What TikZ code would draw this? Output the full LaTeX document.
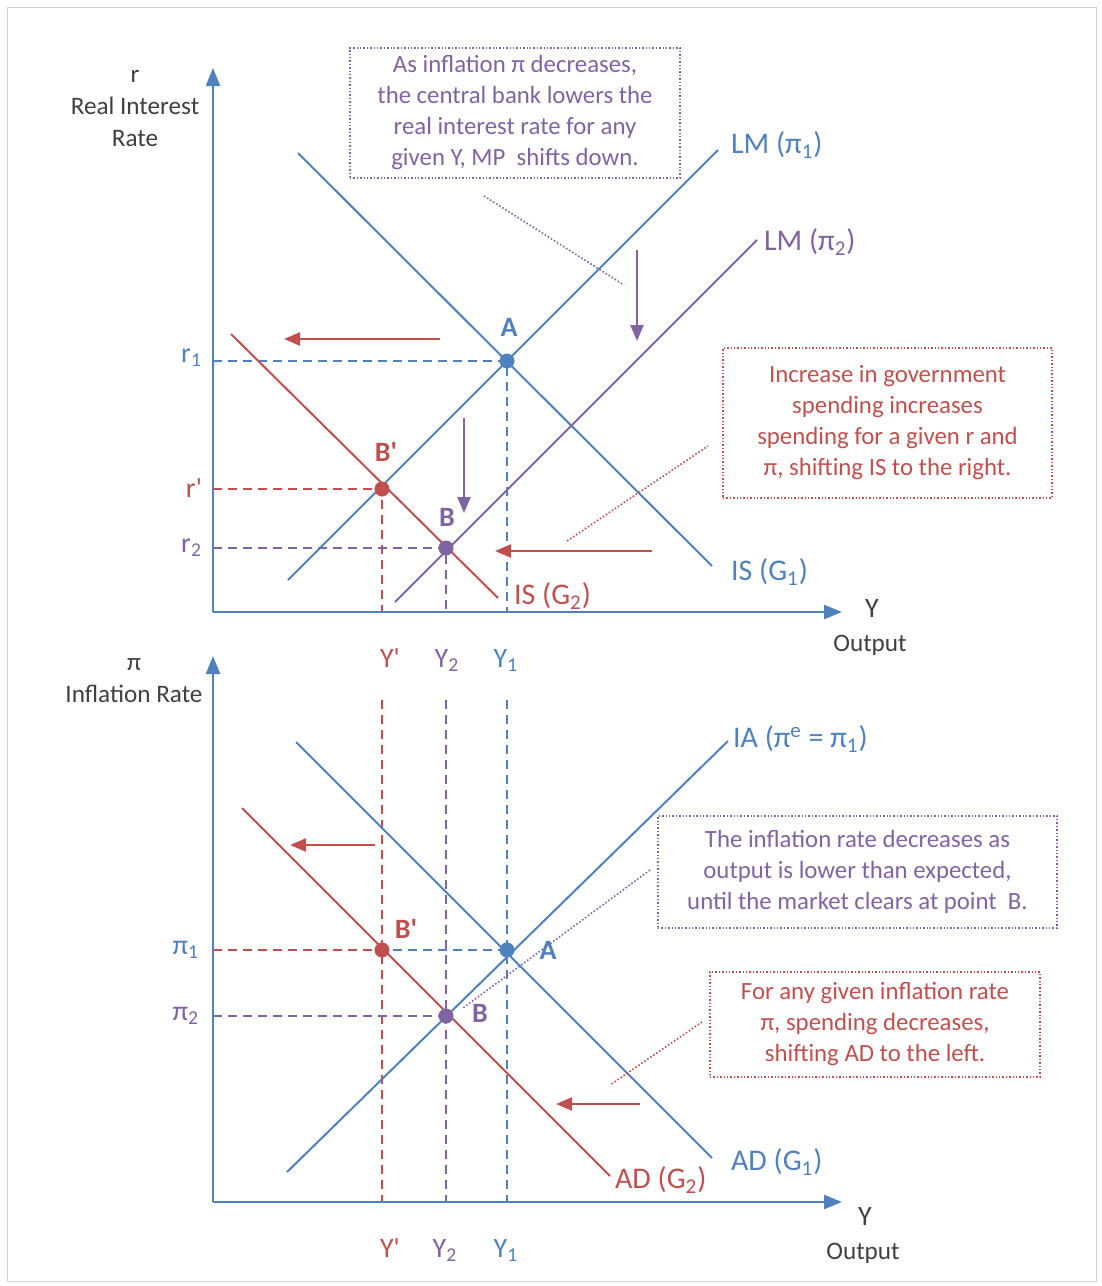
\documentclass[tikz,border=0pt]{standalone}
\usepackage{fontspec}
\setmainfont{Carlito}
\usetikzlibrary{arrows.meta}
\definecolor{econblue}{HTML}{4F81BD}
\definecolor{econred}{HTML}{C0504D}
\definecolor{econpurple}{HTML}{8064A2}
\definecolor{axtext}{HTML}{404040}
\newcommand{\pr}{\textquotesingle}
\tikzset{
  axis/.style={econblue, line width=1.2pt, -{Triangle[length=9pt,width=7pt]}},
  curve/.style={line width=1pt},
  guide/.style={line width=1pt, dash pattern=on 4.5pt off 3pt},
  move/.style={line width=1.2pt, -{Triangle[length=8pt,width=6.5pt]}},
  dot/.style={circle, fill, inner sep=0pt, minimum size=7.5pt},
  note/.style={draw, densely dotted, line width=0.7pt, align=center,
    font=\fontsize{12.4}{15.5}\selectfont, inner sep=0pt},
  lead/.style={densely dotted, line width=0.8pt},
  crvlbl/.style={anchor=west, font=\fontsize{15}{18}\selectfont},
  ptlbl/.style={font=\fontsize{14}{16}\selectfont\bfseries},
  tklbl/.style={font=\fontsize{14}{16}\selectfont},
  axlbl/.style={axtext, align=center, font=\fontsize{12.6}{16}\selectfont},
}
\begin{document}
\begin{tikzpicture}[x=0.5pt, y=-0.5pt]
\useasboundingbox (0,0) rectangle (1102,1286);
\draw[gray!35, line width=0.4pt] (7,7) rectangle (1096,1281);

% ---------- upper panel: IS-LM ----------
\coordinate (O1) at (213,612);
\coordinate (A1) at (507,361);
\coordinate (Bp1) at (382,489);
\coordinate (B1) at (446,548);

% guides
\draw[guide, econblue] (O1 |- A1) -- (A1) -- (A1 |- O1);
\draw[guide, econred] (O1 |- Bp1) -- (Bp1) -- (Bp1 |- O1);
\draw[guide, econpurple] (O1 |- B1) -- (B1) -- (B1 |- O1);

% curves
\coordinate (IS1a) at (298,153);   \coordinate (IS1b) at (712,566);
\coordinate (LM1a) at (288,580);   \coordinate (LM1b) at (718,150);
\coordinate (LM2a) at (395,602);   \coordinate (LM2b) at (757,240);
\coordinate (IS2a) at (231,334);   \coordinate (IS2b) at (498,598);
\draw[curve, econblue] (IS1a) -- (IS1b);
\draw[curve, econblue] (LM1a) -- (LM1b);
\draw[curve, econpurple] (LM2a) -- (LM2b);
\draw[curve, econred] (IS2a) -- (IS2b);
\node[crvlbl, econblue] (lblIS1) at (724,572) {IS (G\textsubscript{1})};
\node[crvlbl, econblue] (lblLM1) at (724,145) {LM (π\textsubscript{1})};
\node[crvlbl, econpurple] (lblLM2) at (757,242) {LM (π\textsubscript{2})};
\node[crvlbl, econred] (lblIS2) at (507,596) {IS (G\textsubscript{2})};

% axes
\coordinate (Ytop1) at (213,68);
\coordinate (Xend1) at (842,612);
\draw[axis] (O1) -- (Ytop1);
\draw[axis] (O1) -- (Xend1);
\node[axlbl] (rlbl) at (135,108) {r\\Real Interest\\Rate};
\node[axtext, font=\fontsize{14}{16}\selectfont] (Ylbl1) at (872,609) {Y};
\node[axlbl] (out1) at (870,645) {Output};

% tick labels
\node[tklbl, econblue, anchor=east] (r1) at (209,358) {r\textsubscript{1}};
\node[tklbl, econred, anchor=east] (rp) at (209,488) {r\pr};
\node[tklbl, econpurple, anchor=east] (r2) at (209,548) {r\textsubscript{2}};
\node[tklbl, econred, anchor=base] (Yp1) at (390,667) {Y\pr};
\node[tklbl, econpurple, anchor=base] (Y21) at (447,667) {Y\textsubscript{2}};
\node[tklbl, econblue, anchor=base] (Y11) at (506,667) {Y\textsubscript{1}};

% shift arrows
\coordinate (s1a) at (440,339); \coordinate (s1b) at (284,339);
\coordinate (s2a) at (464,418); \coordinate (s2b) at (464,513);
\coordinate (s3a) at (652,551); \coordinate (s3b) at (495,551);
\coordinate (s4a) at (637,250); \coordinate (s4b) at (637,341);
\draw[move, econred] (s1a) -- (s1b);
\draw[move, econpurple] (s2a) -- (s2b);
\draw[move, econred] (s3a) -- (s3b);
\draw[move, econpurple] (s4a) -- (s4b);

% notes
\node[note, econpurple, minimum width=165pt, minimum height=65pt] (mpnote) at (515,113)
  {As inflation π decreases,\\the central bank lowers the\\real interest rate for any\\given Y, MP\ \ shifts down.};
\node[note, econred, minimum width=164.5pt, minimum height=75pt] (isnote) at (887.5,423)
  {Increase in government\\spending increases\\spending for a given r and\\π, shifting IS to the right.};
\coordinate (l1a) at (484,196); \coordinate (l1b) at (624,285);
\coordinate (l2a) at (567,541); \coordinate (l2b) at (708,446);
\draw[lead, econpurple] (l1a) -- (l1b);
\draw[lead, econred] (l2a) -- (l2b);

% points
\node[dot, econblue] (Adot1) at (A1) {};
\node[dot, econred] (Bpdot1) at (Bp1) {};
\node[dot, econpurple] (Bdot1) at (B1) {};
\node[ptlbl, econblue] (Alb1) at (509,327) {A};
\node[ptlbl, econred] (Bplb1) at (386,452) {B\pr};
\node[ptlbl, econpurple] (Blb1) at (447,517) {B};

% ---------- lower panel: AD-IA ----------
\coordinate (O2) at (213,1202);
\coordinate (A2) at (507,950);
\coordinate (Bp2) at (382,950);
\coordinate (B2) at (446,1016);

% guides
\draw[guide, econred] (382,700) -- (382,1202);
\draw[guide, econpurple] (446,700) -- (446,1202);
\draw[guide, econblue] (507,700) -- (507,1202);
\draw[guide, econblue] (O2 |- A2) -- (A2);
\draw[guide, econred] (O2 |- Bp2) -- (Bp2);
\draw[guide, econpurple] (O2 |- B2) -- (B2);

% curves
\coordinate (AD1a) at (296,742);   \coordinate (AD1b) at (712,1158);
\coordinate (IAa) at (287,1172);   \coordinate (IAb) at (728,741);
\coordinate (AD2a) at (242,808);   \coordinate (AD2b) at (610,1176);
\draw[curve, econblue] (AD1a) -- (AD1b);
\draw[curve, econblue] (IAa) -- (IAb);
\draw[curve, econred] (AD2a) -- (AD2b);
\node[crvlbl, econblue] (lblAD1) at (724,1162) {AD (G\textsubscript{1})};
\node[crvlbl, econblue] (lblIA) at (726,739) {IA (π\textsuperscript{e} = π\textsubscript{1})};
\node[crvlbl, econred] (lblAD2) at (608,1180) {AD (G\textsubscript{2})};

% axes
\coordinate (Ytop2) at (213,656);
\coordinate (Xend2) at (842,1202);
\draw[axis] (O2) -- (Ytop2);
\draw[axis] (O2) -- (Xend2);
\node[axlbl] (pilbl) at (134,681) {π\\Inflation Rate};
\node[axtext, font=\fontsize{14}{16}\selectfont] (Ylbl2) at (865,1217) {Y};
\node[axlbl] (out2) at (863,1253) {Output};

% tick labels
\node[tklbl, econblue, anchor=east] (pi1) at (206,950) {π\textsubscript{1}};
\node[tklbl, econpurple, anchor=east] (pi2) at (206,1016) {π\textsubscript{2}};
\node[tklbl, econred, anchor=base] (Yp2) at (390,1257) {Y\pr};
\node[tklbl, econpurple, anchor=base] (Y22) at (445,1257) {Y\textsubscript{2}};
\node[tklbl, econblue, anchor=base] (Y12) at (506,1257) {Y\textsubscript{1}};

% shift arrows
\coordinate (s5a) at (375,845); \coordinate (s5b) at (290,845);
\coordinate (s6a) at (640,1104); \coordinate (s6b) at (556,1104);
\draw[move, econred] (s5a) -- (s5b);
\draw[move, econred] (s6a) -- (s6b);

% notes
\node[note, econpurple, minimum width=199.5pt, minimum height=56pt] (ianote) at (857.5,872)
  {The inflation rate decreases as\\output is lower than expected,\\until the market clears at point\ \ B.};
\node[note, econred, minimum width=165pt, minimum height=52.5pt] (adnote) at (875,1024.5)
  {For any given inflation rate\\π, spending decreases,\\shifting AD to the left.};
\coordinate (l3a) at (650,870); \coordinate (l3b) at (463,1008);
\coordinate (l4a) at (702,1022); \coordinate (l4b) at (610,1085);
\draw[lead, econpurple] (l3a) -- (l3b);
\draw[lead, econred] (l4a) -- (l4b);

% points
\node[dot, econblue] (Adot2) at (A2) {};
\node[dot, econred] (Bpdot2) at (Bp2) {};
\node[dot, econpurple] (Bdot2) at (B2) {};
\node[ptlbl, econblue] (Alb2) at (548,950) {A};
\node[ptlbl, econred] (Bplb2) at (406,929) {B\pr};
\node[ptlbl, econpurple] (Blb2) at (480,1013) {B};
\end{tikzpicture}
\end{document}
